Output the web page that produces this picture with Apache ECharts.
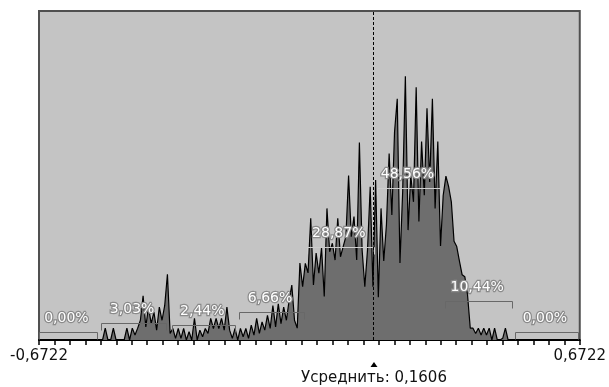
<!DOCTYPE html>
<html>
<head>
<meta charset="utf-8">
<script src="https://cdn.jsdelivr.net/npm/echarts@6/dist/echarts.min.js"></script>
<style>
html, body { margin: 0; padding: 0; background: #ffffff; }
#chart { width: 609px; height: 387px; }
</style>
</head>
<body>
<div id="chart"></div>
<script>
// Range of the distribution and its mean
const xMin = -0.6722;
const xMax = 0.6722;
const meanValue = 0.1606;
const meanCaption = 'Усреднить';

// Histogram heights, one per bin (200 equal bins across the range)
const density = [
  0, 0, 0, 0, 0, 0, 0, 0, 0, 0, 0, 0, 0, 0, 0, 0, 0, 0, 0, 0, 0, 0, 0,
  0, 3.6, 0, 0, 3.6, 0, 0, 0, 0, 3.6, 0, 3.6, 1.5, 3.6, 6, 13.4, 4, 10, 5, 8.5, 3, 10, 6, 10.5, 20,
  2, 3.5, 0.5, 3.5, 0.5, 3.5, 0, 2.5, 0, 6.6, 0, 3, 1, 3.5, 2, 6.6, 3.5, 6.6, 3.5, 6.6, 3, 10, 3, 0.5, 3.5, 0,
  3.5, 1, 3.5, 0.5, 4.5, 1.5, 6.6, 2, 5.5, 3, 7.5, 3.5, 10.5, 4, 11, 5, 10, 6, 12, 16.7, 6, 3.6, 23.4, 16.2, 23.3,
  20.4, 37, 16.7, 26.4, 20.3, 28, 13.2, 40, 26.8, 29.4, 24.3, 37, 25.3, 28.4, 31.4, 50, 31.4, 37.5, 24.3, 60, 27.4, 16.2, 27.4, 46.6, 16.2,
  48.6, 13, 40, 24, 35, 56.7, 38, 63.3, 73.3, 23.4, 45, 80.2, 33.4, 50, 42, 76.8, 36, 60.3, 44, 70.4, 48, 73.3, 40, 60.3, 28.6,
  44, 49.8, 46.6, 42, 30, 28.4, 24, 19.8, 19.2, 13.7, 3.6, 3.6, 2, 3.6, 1.5, 3.6, 1.5, 3.6, 0, 3.6, 0, 0, 0.5, 3.6, 0,
  0, 0, 0, 0, 0, 0, 0, 0, 0, 0, 0, 0, 0, 0, 0, 0, 0, 0, 0, 0, 0, 0, 0, 0, 0, 0
];

// Interval brackets: start, end and share of the total
const bandStart = [-0.6722, -0.5187, -0.3404, -0.1745, -0.0062, 0.1671, 0.3380, 0.5113];
const bandEnd = [-0.5261, -0.3528, -0.1820, -0.0111, 0.1622, 0.3305, 0.5063, 0.6697];
const bandPercent = [0.00, 3.03, 2.44, 6.66, 28.87, 48.56, 10.44, 0.00];

// Axis tick count; only the two ends carry labels
const tickCount = 35;
const axisLabelValues = [xMin, xMax];

const decimalComma = (v, d) => v.toFixed(d).replace('.', ',');

const binWidth = (xMax - xMin) / density.length;
const curveData = density.map((v, i) => [xMin + (i + 0.5) * binWidth, v]);
const bandData = bandPercent.map((p, i) => [bandStart[i], bandEnd[i], p]);
const tickStep = (xMax - xMin) / tickCount;

const FONT = '"DejaVu Sans", Verdana, sans-serif';

const chart = echarts.init(document.getElementById('chart'), null, { renderer: 'canvas' });

chart.setOption({
  animation: false,
  backgroundColor: '#ffffff',
  grid: {
    left: 39, right: 27, top: 11, bottom: 47,
    show: true,
    backgroundColor: '#c4c4c4',
    borderColor: '#505050',
    borderWidth: 2
  },
  xAxis: {
    type: 'value',
    min: xMin,
    max: xMax,
    interval: tickStep,
    position: 'bottom',
    axisLine: { show: true, onZero: false, lineStyle: { color: '#000000', width: 2 } },
    axisTick: { show: true, inside: false, length: 5, lineStyle: { color: '#000000', width: 1.5 } },
    axisLabel: {
      show: true,
      showMinLabel: true,
      showMaxLabel: true,
      hideOverlap: false,
      margin: 9,
      fontFamily: FONT,
      fontSize: 15,
      color: '#111111',
      formatter: v => axisLabelValues.some(a => Math.abs(a - v) < 1e-6) ? decimalComma(v, 4) : ''
    },
    splitLine: { show: false }
  },
  yAxis: [
    { type: 'value', min: 0, max: 100, show: false, splitLine: { show: false } },
    { type: 'value', min: -2.6667, max: 108.4444, show: false, splitLine: { show: false } }
  ],
  series: [
    {
      type: 'line',
      yAxisIndex: 0,
      data: curveData,
      showSymbol: false,
      symbol: 'none',
      lineStyle: { color: '#000000', width: 1.2 },
      areaStyle: { color: '#6e6e6e', opacity: 1 },
      z: 2,
      markLine: {
        silent: true,
        symbol: 'none',
        label: { show: false },
        lineStyle: { color: '#000000', width: 1, type: [3, 2] },
        data: [{ xAxis: meanValue }]
      }
    },
    {
      // interval brackets with their percentage captions
      type: 'custom',
      yAxisIndex: 1,
      z: 3,
      data: bandData,
      renderItem: (params, api) => {
        const s = api.value(0), e = api.value(1), p = api.value(2);
        const a = api.coord([s, p]);
        const b = api.coord([e, p]);
        const y = Math.round(a[1]) + 0.5;
        const x0 = Math.round(a[0]) + 0.5;
        const x1 = Math.round(b[0]) - 0.5;
        const stroke = p > 20 ? '#cdcdcd' : '#686868';
        return {
          type: 'group',
          children: [
            {
              type: 'polyline',
              shape: { points: [[x0, y + 7], [x0, y], [x1, y], [x1, y + 7]] },
              style: { stroke: stroke, lineWidth: 1, fill: null }
            },
            {
              type: 'text',
              x: (a[0] + b[0]) / 2 - 2,
              y: y - 14,
              style: {
                text: decimalComma(p, 2) + '%',
                font: '14px ' + FONT,
                fill: '#ffffff',
                stroke: '#8a8a8a',
                lineWidth: 2.5,
                strokeFirst: true,
                align: 'center',
                verticalAlign: 'middle'
              }
            }
          ]
        };
      }
    }
  ]
});

// Mean marker and caption under the axis
const meanX = chart.convertToPixel({ xAxisIndex: 0 }, meanValue);
chart.setOption({
  graphic: [
    {
      type: 'polygon',
      shape: { points: [[meanX - 3.5, 367], [meanX + 3.5, 367], [meanX, 362]] },
      style: { fill: '#000000' }
    },
    {
      type: 'text',
      x: meanX,
      y: 378,
      style: {
        text: meanCaption + ': ' + decimalComma(meanValue, 4),
        font: '15px ' + FONT,
        fill: '#111111',
        align: 'center',
        verticalAlign: 'middle'
      }
    }
  ]
});
</script>
</body>
</html>
